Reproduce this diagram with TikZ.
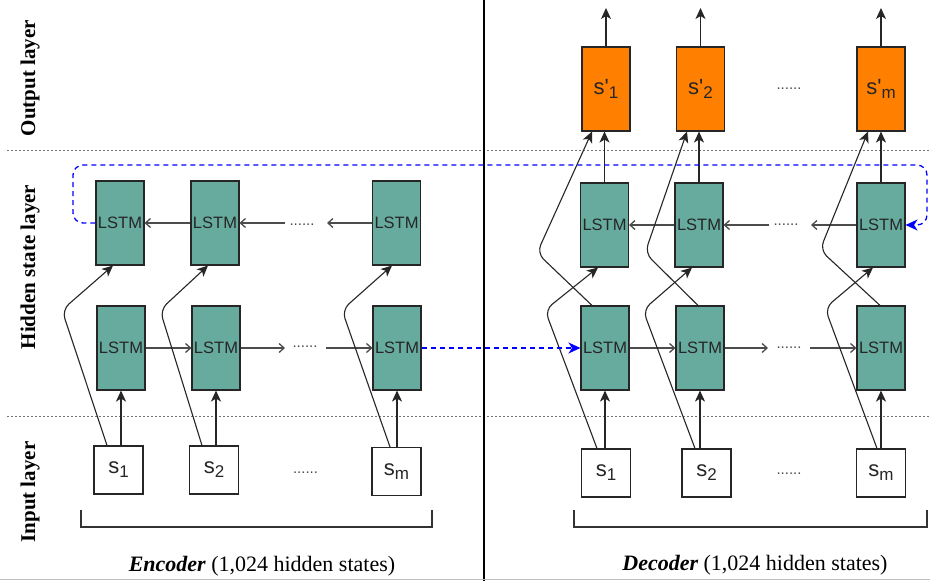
\documentclass[tikz,border=0pt]{standalone}
\usepackage{fontspec}
\setmainfont{Liberation Serif}
\newfontfamily\arialf{Liberation Sans}
\usetikzlibrary{arrows.meta}
\definecolor{lstmc}{HTML}{67AB9F}
\definecolor{orangec}{HTML}{FF8000}
\definecolor{dashblue}{HTML}{0000FF}
\newcommand\mysub[1]{\raisebox{-0.35ex}{\fontsize{17}{17}\selectfont #1}}
\begin{document}
\begin{tikzpicture}[x=1pt,y=-1pt,
 lstm/.style={draw=black!85,fill=lstmc,line width=1.1pt,minimum width=48pt,minimum height=84pt,inner sep=0pt,font=\arialf\fontsize{16.5}{16.5}\selectfont,text=black!85},
 outbox/.style={lstm,fill=orangec,font=\arialf\fontsize{22}{22}\selectfont},
 inbox/.style={draw=black!85,fill=white,line width=1.1pt,minimum width=49pt,minimum height=48pt,inner sep=0pt,font=\arialf\fontsize{22}{22}\selectfont,text=black!85},
 varr/.style={draw=black!85,line width=1.1pt,-{Stealth[length=11pt,width=10pt,inset=3pt]}},
 carr/.style={varr,rounded corners=9pt},
 harr/.style={draw=black!70,line width=1.3pt,-{Straight Barb[length=5pt,width=9pt]}},
 dotsn/.style={font=\arialf\fontsize{15}{15}\selectfont,text=black!70,inner sep=0pt,anchor=base},
 layerline/.style={draw=black!55,line width=0.8pt,dash pattern=on 2pt off 2pt},
 bluearr/.style={draw=dashblue,line width=1.3pt,dash pattern=on 5pt off 4pt,-{Stealth[length=12pt,width=11pt,inset=3.5pt]}},
 laylabel/.style={rotate=90,font=\bfseries\fontsize{21}{21}\selectfont},
 bracketl/.style={draw=black!80,line width=1.2pt},
 captionn/.style={font=\fontsize{22}{22}\selectfont}
]
\useasboundingbox (0,0) rectangle (930,581);
\fill[white] (0,0) rectangle (930,581);

% layer separators
\draw[layerline] (7,150) -- (930,150);
\draw[layerline] (7,416) -- (930,416);
\draw[black,line width=1.2pt] (484,0) -- (484,581);
\draw[black!25,line width=0.8pt] (0,579) -- (930,579);

% layer labels
\node[laylabel] (lout) at (30,78) {Output layer};
\node[laylabel] (lhid) at (30,267) {Hidden state layer};
\node[laylabel] (lin) at (30,492) {Input layer};

% encoder nodes
\node[lstm] (eu1) at (120,223) {LSTM};
\node[lstm] (eu2) at (215,223) {LSTM};
\node[lstm] (eum) at (396.5,223) {LSTM};
\node[lstm] (el1) at (121,348) {LSTM};
\node[lstm] (el2) at (216,348) {LSTM};
\node[lstm] (elm) at (397,348) {LSTM};
\node[inbox] (es1) at (118.5,470) {s\mysub{1}};
\node[inbox] (es2) at (214,470) {s\mysub{2}};
\node[inbox] (esm) at (396.5,471.5) {s\mysub{m}};

% decoder nodes
\node[outbox] (do1) at (606,89) {s'\mysub{1}};
\node[outbox] (do2) at (700.5,89) {s'\mysub{2}};
\node[outbox] (dom) at (881,89) {s'\mysub{m}};
\node[lstm] (du1) at (604.5,225) {LSTM};
\node[lstm] (du2) at (699,225) {LSTM};
\node[lstm] (dum) at (881,225) {LSTM};
\node[lstm] (dl1) at (605,348) {LSTM};
\node[lstm] (dl2) at (700,348) {LSTM};
\node[lstm] (dlm) at (881,348) {LSTM};
\node[inbox] (ds1) at (606,473) {s\mysub{1}};
\node[inbox] (ds2) at (706.5,473) {s\mysub{2}};
\node[inbox] (dsm) at (881,473) {s\mysub{m}};

% dots
\node[dotsn] (d1) at (302,225) {......};
\node[dotsn] (d2) at (305,347) {......};
\node[dotsn] (d3) at (305.5,473) {......};
\node[dotsn] (d4) at (786,225) {......};
\node[dotsn] (d5) at (789,348) {......};
\node[dotsn] (d6) at (789,474) {......};
\node[dotsn] (d7) at (789,89) {......};

% free ends
\coordinate (eua) at (285,223);
\coordinate (eub) at (327,223);
\coordinate (ela) at (285,348);
\coordinate (elb) at (326,348);
\coordinate (dua) at (769,225);
\coordinate (dub) at (811,225);
\coordinate (dla) at (768,348);
\coordinate (dlb) at (810,348);
\coordinate (o1t) at (606,8);
\coordinate (o2t) at (700.5,8);
\coordinate (omt) at (881,8);

% horizontal arrows
\draw[harr] (eu2.west) -- (eu1.east);
\draw[harr] (eua) -- (eu2.east);
\draw[harr] (eum.west) -- (eub);
\draw[harr] (el1.east) -- (el2.west);
\draw[harr] (el2.east) -- (ela);
\draw[harr] (elb) -- (elm.west);
\draw[harr] (du2.west) -- (du1.east);
\draw[harr] (dua) -- (du2.east);
\draw[harr] (dum.west) -- (dub);
\draw[harr] (dl1.east) -- (dl2.west);
\draw[harr] (dl2.east) -- (dla);
\draw[harr] (dlb) -- (dlm.west);

% vertical arrows
\draw[varr] (es1.north -| el1.south) -- (el1.south);
\draw[varr] (es2.north -| el2.south) -- (el2.south);
\draw[varr] (esm.north -| elm.south) -- (elm.south);
\draw[varr] (ds1.north -| dl1.south) -- (dl1.south);
\draw[varr] (ds2.north -| dl2.south) -- (dl2.south);
\draw[varr] (dsm.north -| dlm.south) -- (dlm.south);
\draw[varr] (du1.north) -- (du1.north |- do1.south);
\draw[varr] (du2.north) -- (du2.north |- do2.south);
\draw[varr] (dum.north) -- (dum.north |- dom.south);
\draw[varr] (do1.north) -- (o1t);
\draw[varr] (do2.north) -- (o2t);
\draw[varr] (dom.north) -- (omt);

% skip connections encoder
\draw[carr] ([xshift=-11.5pt]es1.north) -- (62,310) -- ([xshift=-7pt]eu1.south);
\draw[carr] ([xshift=-12pt]es2.north) -- (160,310) -- ([xshift=-7pt]eu2.south);
\draw[carr] ([xshift=-6.5pt]esm.north) -- (342,310) -- ([xshift=-4.5pt]eum.south);

% skip connections decoder (input -> upper LSTM)
\draw[carr] ([xshift=-9pt]ds1.north) -- (545,310) -- ([xshift=-6.5pt]du1.south);
\draw[carr] ([xshift=-11.5pt]ds2.north) -- (643,310) -- ([xshift=-7pt]du2.south);
\draw[carr] ([xshift=-4pt]dsm.north) -- (825,308) -- ([xshift=-8pt]dum.south);
% (lower LSTM -> output)
\draw[carr] ([xshift=-13pt]dl1.north) -- (537,253) -- ([xshift=-14pt]do1.south);
\draw[carr] ([xshift=-2pt]dl2.north) -- (645,253) -- ([xshift=-13.5pt]do2.south);
\draw[carr] ([xshift=-1pt]dlm.north) -- (820,250) -- ([xshift=-13pt]dom.south);

% blue dashed connections
\draw[bluearr] (elm.east) -- (dl1.west);
\draw[bluearr,rounded corners=10pt] (eu1.west) -- (73,223) -- (73,165) -- (927,165) -- (927,225) -- (dum.east);

% brackets
\draw[bracketl] (81,510) -- (81,527) -- (432,527) -- (432,510);
\draw[bracketl] (574,510) -- (574,527) -- (927,527) -- (927,510);

% captions
\node[captionn] (cenc) at (262,566) {{\bfseries\itshape Encoder} (1,024 hidden states)};
\node[captionn] (cdec) at (755,565) {{\bfseries\itshape Decoder} (1,024 hidden states)};
\end{tikzpicture}
\end{document}
